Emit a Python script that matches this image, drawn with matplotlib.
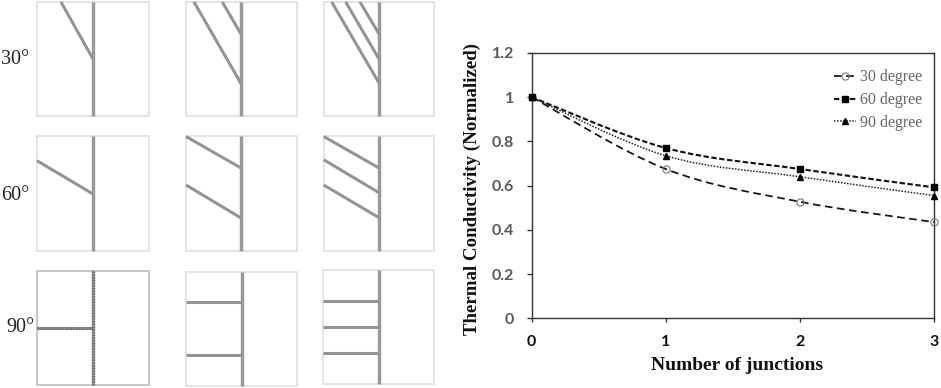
import matplotlib
matplotlib.use("Agg")
import matplotlib.pyplot as plt
from matplotlib.path import Path
from matplotlib.patches import PathPatch, Rectangle
from matplotlib.lines import Line2D

W, H = 941, 388

# ---- chart data
junctions = [0, 1, 2, 3]
deg30 = [1.0, 0.675, 0.527, 0.435]
deg60 = [1.0, 0.770, 0.675, 0.592]
deg90 = [1.0, 0.735, 0.640, 0.555]
series_labels = ["30 degree", "60 degree", "90 degree"]
y_ticks = [0, 0.2, 0.4, 0.6, 0.8, 1.0, 1.2]
y_tick_labels = ["0", "0.2", "0.4", "0.6", "0.8", "1", "1.2"]
x_tick_labels = ["0", "1", "2", "3"]

# ---- schematic panels, in picture pixels: (box, stem x, branches)
panel_boxes = [
    (37.5, 2, 149, 116), (186, 2, 297, 116), (323.7, 2, 434.3, 116),
    (37, 136.3, 149, 251), (186, 136.3, 297, 251), (323.7, 136.3, 434.3, 251),
    (37.5, 271, 149.5, 385), (186, 271.5, 297.5, 386), (323, 269.5, 434, 384),
]
panel_stems = [93.5, 241.3, 379, 93, 241.5, 379, 93.3, 241.7, 378.7]
panel_branches = [
    [(61, 2, 93, 59)],
    [(194, 2, 241, 83.5), (222.3, 2, 241, 34)],
    [(331.7, 2, 379, 83), (345.7, 2, 379, 59), (360, 2, 379, 34)],
    [(37, 160.7, 93, 194)],
    [(186, 136.5, 241, 168), (186, 185, 241, 218)],
    [(323.7, 136.5, 379, 168), (323.7, 159.7, 379, 192.7), (323.7, 185, 379, 217.7)],
    [(37.5, 328.3, 93, 328.3)],
    [(186, 302.3, 241, 302.3), (186, 354.7, 241, 354.7)],
    [(323, 300.7, 378, 300.7), (323, 326.7, 378, 326.7), (323, 352.7, 378, 352.7)],
]
row_labels = ["30°", "60°", "90°"]
row_label_pos = [(1, 59), (1, 195), (6, 327)]

fig = plt.figure(figsize=(W / 100, H / 100), dpi=100, facecolor="white")

# ---- left schematic layer
bg = fig.add_axes([0, 0, 1, 1])
bg.set_xlim(0, W)
bg.set_ylim(H, 0)
bg.axis("off")
SERIF = "Liberation Serif"
for i, (box, sx, brs) in enumerate(zip(panel_boxes, panel_stems, panel_branches)):
    x0, y0, x1, y1 = box
    edge = "#b5b5b5" if i == 6 else "#dddddd"
    bg.add_patch(Rectangle((x0, y0), x1 - x0, y1 - y0, fill=False, ec=edge, lw=1.1))
    bg.plot([sx, sx], [y0, y1], color="#9a9a9a", lw=2.5, solid_capstyle="butt")
    for (a, b, c, d) in brs:
        bg.plot([a, c], [b, d], color="#949494", lw=2.2, solid_capstyle="butt")
        if i == 6:
            bg.plot([a, c], [b, d], color="#6e6e6e", lw=2.2, ls=(0, (0.45, 0.45)))
    if i == 6:
        bg.plot([sx, sx], [y0, y1], color="#6e6e6e", lw=2.2, ls=(0, (0.45, 0.45)))
for lab, (x, y) in zip(row_labels, row_label_pos):
    bg.text(x, y, lab, family=SERIF, fontsize=14.5, color="#222222", va="center", ha="left")

# ---- line chart
L, R, T, B = 531.7, 934.3, 53, 318.3
ax = fig.add_axes([L / W, 1 - B / H, (R - L) / W, (B - T) / H])
ax.set_xlim(0, 3)
ax.set_ylim(0, 1.2)
ax.patch.set_alpha(0)


def smooth(ax, xs, ys, **kw):
    """Excel-like smoothed line through the data points."""
    pts = list(zip(xs, ys))
    verts, codes = [pts[0]], [Path.MOVETO]
    for i in range(len(pts) - 1):
        p0 = pts[max(i - 1, 0)]
        p1, p2 = pts[i], pts[i + 1]
        p3 = pts[min(i + 2, len(pts) - 1)]
        c1 = (p1[0] + (p2[0] - p0[0]) / 6, p1[1] + (p2[1] - p0[1]) / 6)
        c2 = (p2[0] - (p3[0] - p1[0]) / 6, p2[1] - (p3[1] - p1[1]) / 6)
        verts += [c1, c2, p2]
        codes += [Path.CURVE4] * 3
    ax.add_patch(PathPatch(Path(verts, codes), fill=False, clip_on=False, **kw))


styles = [
    dict(ls=(0, (4.4, 2.6)), lw=1.25, ec="#111111"),
    dict(ls=(0, (2.6, 1.2)), lw=1.5, ec="#111111"),
    dict(ls=(0, (1, 1)), lw=1.1, ec="#222222"),
]
mk = [
    dict(marker="o", ms=5.2, mfc="none", mec="#777777", mew=0.8),
    dict(marker="s", ms=4.3, mfc="black", mec="black"),
    dict(marker="^", ms=5.0, mfc="black", mec="black"),
]
for ys, st, m in zip([deg30, deg60, deg90], styles, mk):
    smooth(ax, junctions, ys, **st)
for ys, m, z in zip([deg30, deg90, deg60], [mk[0], mk[2], mk[1]], [5, 6, 7]):
    ax.plot(junctions, ys, ls="none", clip_on=False, zorder=z, **m)

for s in ax.spines.values():
    s.set_linewidth(1.0)
    s.set_color("#333333")
ax.set_xticks(junctions)
ax.set_xticklabels(x_tick_labels, family="Lato", weight="bold", fontsize=11.5, color="#111111")
ax.set_yticks(y_ticks)
ax.set_yticklabels(y_tick_labels, family="Lato", weight="bold", fontsize=11.5, color="#595959")
ax.tick_params(axis="x", length=3, width=1, color="#333333", direction="out", pad=9)
ax.tick_params(axis="y", length=3.6, width=1, color="#333333", direction="out", pad=9)

fig.text(737 / W, 1 - 365 / H, "Number of junctions", family=SERIF, weight="bold",
         fontsize=14, color="#111111", ha="center", va="center")
fig.text(472 / W, 1 - 189 / H, "Thermal Conductivity (Normalized)", family=SERIF, weight="bold",
         fontsize=13.6, color="#111111", ha="center", va="center", rotation=90)

handles = [
    Line2D([], [], color=st["ec"], ls=st["ls"], lw=st["lw"], **m)
    for st, m in zip(styles, mk)
]
leg = ax.legend(handles, series_labels, loc="upper left", bbox_to_anchor=(0.751, 0.938),
                frameon=False, handlelength=1.4, handletextpad=0.2,
                labelspacing=0.42, borderpad=0, borderaxespad=0,
                prop={"family": SERIF, "size": 11.5})
for t in leg.get_texts():
    t.set_color("#666666")

fig.savefig("out.png", dpi=100, facecolor="white")
